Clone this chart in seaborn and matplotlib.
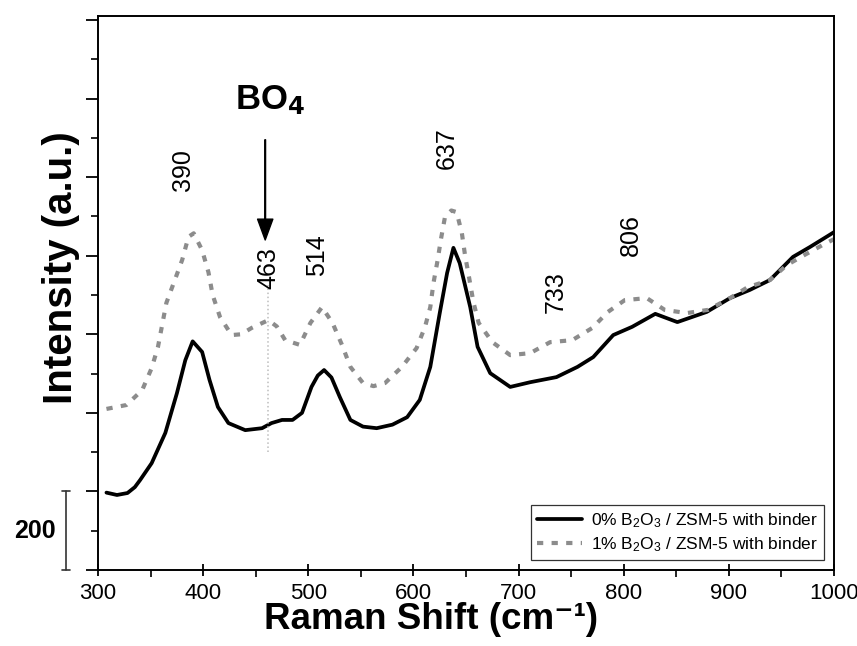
import numpy as np
import pandas as pd
import matplotlib
matplotlib.use("Agg")
import matplotlib.pyplot as plt
import matplotlib.transforms as mtransforms
import seaborn as sns

# Raman-Spektren
shift_0 = [308, 318, 328, 335, 340, 351, 364, 375, 383, 390, 399, 406, 414, 424,
           440, 456, 465, 475, 485, 494, 503, 509, 515, 522, 530, 540, 552, 565,
           580, 594, 606, 616, 625, 632, 638, 644, 654, 661, 673, 692, 711, 736,
           756, 771, 790, 808, 830, 851, 879, 901, 920, 939, 961, 977, 994, 1000]
intens_0 = [197, 191, 196, 211, 229, 272, 349, 450, 534, 582, 555, 484, 415, 374,
            356, 361, 374, 382, 382, 400, 466, 495, 509, 490, 440, 382, 365, 361,
            370, 389, 433, 517, 654, 756, 820, 781, 669, 568, 501, 466, 478, 491,
            517, 542, 598, 619, 652, 631, 657, 692, 713, 738, 797, 822, 850, 860]

shift_1 = [308, 327, 342, 351, 357, 365, 373, 380, 386, 391, 399, 405, 409, 416,
           427, 436, 446, 462, 470, 478, 492, 502, 513, 523, 532, 540, 552, 562,
           573, 589, 603, 611, 616, 619, 623, 626, 630, 636, 641, 646, 649, 653,
           657, 662, 675, 692, 711, 730, 751, 770, 785, 801, 822, 839, 860, 880,
           901, 918, 939, 955, 972, 991, 1000]
intens_1 = [410, 420, 458, 514, 568, 680, 738, 789, 848, 857, 814, 758, 700, 644,
            598, 600, 616, 636, 620, 585, 573, 629, 669, 629, 573, 517, 476, 468,
            476, 517, 565, 619, 669, 730, 789, 840, 899, 915, 911, 858, 802, 743,
            682, 629, 580, 547, 552, 580, 585, 616, 657, 687, 692, 662, 654, 662,
            692, 720, 738, 776, 802, 830, 842]

label_0 = "0% B$_2$O$_3$ / ZSM-5 with binder"
label_1 = "1% B$_2$O$_3$ / ZSM-5 with binder"

peak_labels = ["390", "463", "514", "637", "733", "806"]
peak_x = [381, 462, 508, 632, 735, 807]
peak_y = [1018, 769, 802, 1074, 708, 853]

sns.set_style("ticks")
plt.rcParams['font.family'] = ['Liberation Sans', 'DejaVu Sans']
plt.rcParams['mathtext.default'] = 'regular'
for key in ["text.color", "axes.labelcolor", "xtick.color", "ytick.color",
            "axes.edgecolor"]:
    plt.rcParams[key] = "black"

df0 = pd.DataFrame({"shift": shift_0, "intensity": intens_0})
df1 = pd.DataFrame({"shift": shift_1, "intensity": intens_1})

fig = plt.figure(figsize=(8.57, 6.46), dpi=100)
ax = fig.add_axes([0.1144, 0.1176, 0.8588, 0.8576])

sns.lineplot(data=df0, x="shift", y="intensity", ax=ax, color="black",
             linewidth=2.7, label=label_0, sort=False)
sns.lineplot(data=df1, x="shift", y="intensity", ax=ax, color="#8c8c8c",
             linewidth=3.0, label=label_1, sort=False)
ax.lines[1].set_dashes([1.5, 2.0])

ax.set_xlim(300, 1000)
ax.set_ylim(0, 1410)
ax.set_xticks(np.arange(300, 1001, 100))
ax.set_xticks(np.arange(350, 1000, 100), minor=True)
ax.set_yticks(np.arange(0, 1401, 200))
ax.set_yticks(np.arange(100, 1401, 200), minor=True)
ax.set_yticklabels([])
ax.tick_params(axis="x", which="major", direction="inout", length=9, width=1.3,
               labelsize=16, pad=5)
ax.tick_params(axis="x", which="minor", direction="out", length=5, width=1.2)
ax.tick_params(axis="y", which="major", direction="out", length=9, width=1.3)
ax.tick_params(axis="y", which="minor", direction="out", length=5, width=1.2)
for s in ax.spines.values():
    s.set_linewidth(1.4)

ax.set_xlabel("Raman Shift (cm\u207b\u00b9)", fontsize=26.5, fontweight="bold")
ax.xaxis.set_label_coords(0.452, -0.058)
ax.set_ylabel("Intensity (a.u.)", fontsize=29, fontweight="bold")
ax.yaxis.set_label_coords(-0.025, 0.545)

# Peak-Beschriftungen
for lab, px, py in zip(peak_labels, peak_x, peak_y):
    ax.text(px, py, lab, rotation=90, ha="center", va="center", fontsize=18)

# BO4 mit Pfeil
ax.text(464, 1195, "BO$_\\mathbf{4}$", ha="center", va="center", fontsize=25,
        fontweight="bold")
ax.annotate("", xy=(459, 840), xytext=(459, 1095),
            arrowprops=dict(facecolor="black", edgecolor="black", width=0.5,
                            headwidth=11, headlength=15))
ax.plot([462, 462], [300, 725], linestyle=":", color="#bdbdbd", linewidth=1.1)

# Skalenbalken 200
trans = mtransforms.blended_transform_factory(ax.transAxes, ax.transData)
bar_x = -0.0435
ax.plot([bar_x, bar_x], [0, 200], color="#333333", lw=1.2, transform=trans,
        clip_on=False)
for yy in (0, 200):
    ax.plot([bar_x - 0.006, bar_x + 0.006], [yy, yy], color="#333333", lw=1.2,
            transform=trans, clip_on=False)
ax.text(-0.0856, 100, "200", transform=trans, ha="center", va="center",
        fontsize=18, fontweight="bold")

leg = ax.legend(loc="lower right", fontsize=12.5, frameon=True, fancybox=False,
                edgecolor="black", handlelength=2.6, borderaxespad=0.6,
                borderpad=0.35, labelspacing=0.3, handletextpad=0.5)
leg.get_frame().set_linewidth(0.9)

fig.savefig("out.png", dpi=100)
